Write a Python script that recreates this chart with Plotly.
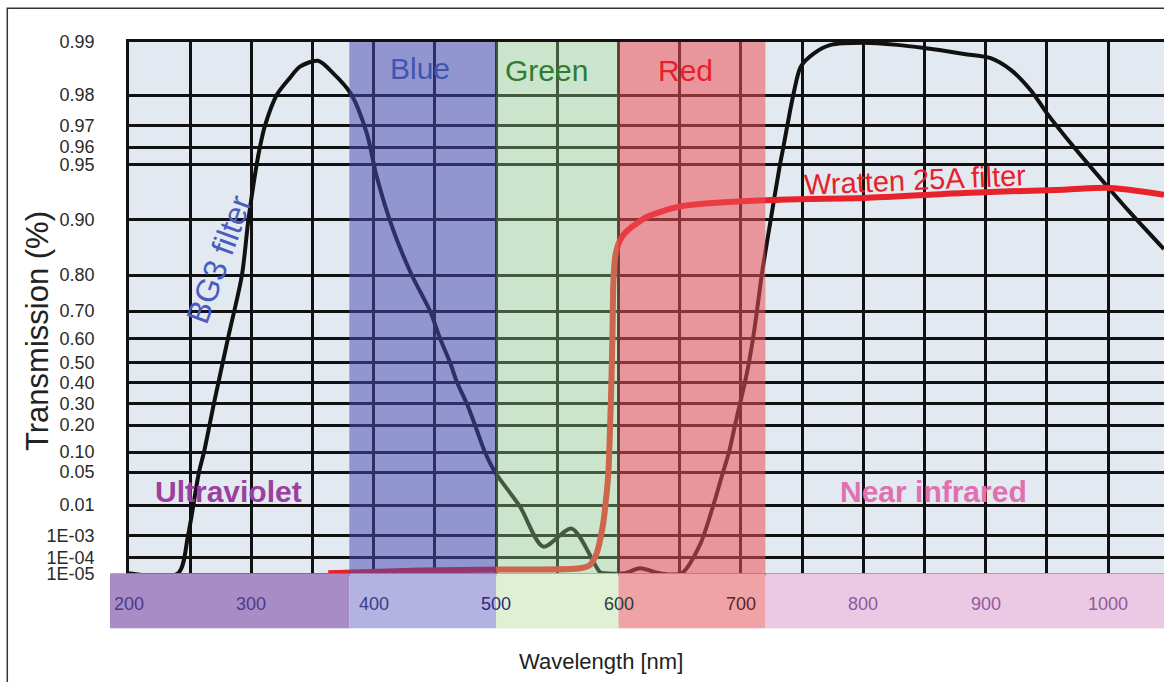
import numpy as np
import plotly.graph_objects as go

# ---------------- data ----------------
# non-linear transmission axis: tick values and their positions on the axis
TICK_LABELS = ["1E-05", "1E-04", "1E-03", "0.01", "0.05", "0.10", "0.20", "0.30", "0.40",
               "0.50", "0.60", "0.70", "0.80", "0.90", "0.95", "0.96", "0.97", "0.98", "0.99"]
TICK_VALUES = [1e-5, 1e-4, 1e-3, 0.01, 0.05, 0.10, 0.20, 0.30, 0.40,
               0.50, 0.60, 0.70, 0.80, 0.90, 0.95, 0.96, 0.97, 0.98, 0.99]
TICK_POS = [0, 15.6, 37.6, 68.3, 101.3, 121.3, 148.3, 170, 191,
            211, 235, 262.3, 298.3, 354, 408.6, 426.3, 447.6, 478.3, 531.6]

# BG3 filter transmission
bg3_nm = [200, 240, 248.2, 257.2, 261.3, 269.4, 280.9, 292.3, 297.6, 304.3, 307.0, 311.1,
          320.7, 331.5, 339.7, 354.4, 366.7, 381.1, 394.2, 402.4, 415.7, 431.0, 446.0,
          454.1, 462.3, 468.0, 475.9, 482.7, 490.8, 499.0, 519.4, 538.5, 561.7, 584.8,
          588.9, 605, 617.5, 633.8, 651.6, 666.5, 677.5, 685.4, 690.3, 695.2, 699.3,
          703.3, 706.6, 709.9, 713.1, 717.0, 724.4, 731.9, 734.7, 737.9, 742.8, 748.9,
          759.7, 773.4, 800.6, 827.6, 849.6, 882.3, 904.1, 920.5, 936.8, 950.1, 972.2,
          999.2, 1018.5, 1045.7]
bg3_t = [1e-5, 1e-5, 1e-3, 0.05, 0.10, 0.30, 0.60, 0.80, 0.90, 0.95, 0.96, 0.97,
         0.98, 0.9832, 0.9853, 0.9864, 0.9841, 0.9803, 0.9666, 0.939, 0.881, 0.80, 0.70,
         0.60, 0.50, 0.40, 0.30, 0.20, 0.10, 0.05, 0.009, 3.2e-4, 1.7e-3, 1.2e-5,
         1e-5, 1e-5, 2.1e-5, 1e-5, 1e-5, 3.8e-4, 0.01, 0.05, 0.10, 0.20, 0.30,
         0.40, 0.50, 0.60, 0.70, 0.80, 0.90, 0.95, 0.96, 0.97, 0.98, 0.9853,
         0.9878, 0.9894, 0.9898, 0.9894, 0.9888, 0.9877, 0.9869, 0.9847, 0.9809, 0.974, 0.9598,
         0.93, 0.9055, 0.845]

# Wratten 25A filter transmission
w25_nm = [362.8, 437.7, 503, 568.5, 576.6, 582.1, 587.5, 589.7, 591.6, 593.0, 594.2,
          595.1, 595.8, 597.2, 599.5, 602.5, 606.0, 610.5, 616.0, 623.0, 650.2, 731.9, 800.5,
          882.2, 964, 1002.2, 1045.7]
w25_t = [1e-5, 1.5e-5, 1.75e-5, 2.1e-5, 3.4e-5, 1.6e-4, 2.6e-3, 0.0128, 0.043, 0.176, 0.41,
         0.63, 0.78, 0.83, 0.852, 0.866, 0.876, 0.885, 0.894, 0.902, 0.9115, 0.9177, 0.9192,
         0.9238, 0.9268, 0.9284, 0.9222]

# spectral bands (nm)
band_names = ["Ultraviolet", "Blue", "Green", "Red", "Near infrared"]
band_start = [150, 380, 500, 600, 720]
band_end = [380, 500, 600, 720, 1100]
band_overlay = [None, "rgba(70,74,178,0.52)", "rgba(160,222,140,0.36)", "rgba(236,80,86,0.55)", None]
strip_colors = ["#a98cc6", "#b3b2e0", "#e0f0d2", "#f0a3a6", "#ebc8e3"]

x_ticks = [200, 300, 400, 500, 600, 700, 800, 900, 1000]
x_tick_colors = ["#4b3a8c", "#4b3a8c", "#3b3b8f", "#2b2b80", "#2d3d33", "#5b2328",
                 "#8e5a9e", "#8e5a9e", "#8e5a9e"]


def to_axis(t):
    return np.interp(np.log10(np.asarray(t, dtype=float)), np.log10(TICK_VALUES), TICK_POS)


FONT = "Liberation Sans, Arial, sans-serif"
W, H = 1164, 682

fig = go.Figure()
fig.add_trace(go.Scatter(x=bg3_nm, y=to_axis(bg3_t), mode="lines",
                         line=dict(color="#111111", width=4, shape="spline", smoothing=0.8),
                         hoverinfo="skip", showlegend=False))
fig.add_trace(go.Scatter(x=w25_nm, y=to_axis(w25_t), mode="lines",
                         line=dict(color="#e8222a", width=6, shape="spline", smoothing=0.8),
                         hoverinfo="skip", showlegend=False))

shapes = []
# colour overlays on the main plot
for s, e, c in zip(band_start, band_end, band_overlay):
    if c:
        shapes.append(dict(type="rect", xref="x", yref="y", x0=s, x1=e, y0=TICK_POS[0],
                           y1=TICK_POS[-1], fillcolor=c, line=dict(width=0), layer="above"))
# wavelength strip
for s, e, c in zip(band_start, band_end, strip_colors):
    shapes.append(dict(type="rect", xref="x2", yref="y2", x0=s, x1=e, y0=-0.1, y1=1.1,
                       fillcolor=c, line=dict(width=0), layer="above"))
# outer frame
shapes.append(dict(type="rect", xref="paper", yref="paper", x0=7.3 / W, x1=1.05,
                   y0=-0.05, y1=(H - 8.3) / H, line=dict(color="#333333", width=1.5),
                   fillcolor="rgba(0,0,0,0)", layer="above"))

ann = []
for xv, col in zip(x_ticks, x_tick_colors):
    ann.append(dict(x=xv, y=0.44, xref="x2", yref="y2", text=str(xv), showarrow=False,
                    xanchor="center", yanchor="middle",
                    font=dict(family=FONT, size=18, color=col)))

labels = [
    ("Blue", 437.8, 505.3, 30, "#4155b0", 0),
    ("Green", 541.5, 503.3, 30, "#2e7d32", 0),
    ("Red", 655, 503.3, 30, "#e8202a", 0),
    ("Wratten 25A filter", 842.3, 393.3, 29, "#e8202a", -2.5),
    ("BG3 filter", 273.6, 314.3, 32, "#4a5cc0", -70),
    ("<b>Ultraviolet</b>", 281.7, 82.3, 30, "#9b3fa0", 0),
    ("<b>Near infrared</b>", 857.4, 82.3, 30, "#e070b0", 0),
]
for t, xv, yv, sz, col, ang in labels:
    ann.append(dict(x=xv, y=yv, xref="x", yref="y", text=t, showarrow=False, textangle=ang,
                    xanchor="center", yanchor="middle",
                    font=dict(family=FONT, size=sz, color=col)))

ann.append(dict(x=37 / W, y=(H - 331) / H, xref="paper", yref="paper", text="Transmission (%)",
                xanchor="center", yanchor="middle",
                showarrow=False, textangle=-90, font=dict(family=FONT, size=31, color="#222222")))
ann.append(dict(x=600.5 / W, y=(H - 661) / H, xref="paper", yref="paper", text="Wavelength [nm]",
                xanchor="center", yanchor="middle",
                showarrow=False, font=dict(family=FONT, size=22, color="#222222")))

fig.update_layout(
    width=W, height=H, autosize=False, margin=dict(l=0, r=0, t=0, b=0, pad=0),
    paper_bgcolor="white", plot_bgcolor="#e3e9f0",
    font=dict(family=FONT),
    showlegend=False,
    xaxis=dict(domain=[129 / W, 1], range=[200, 1045.7], tick0=200, dtick=50,
               showgrid=True, gridcolor="#111111", gridwidth=2.5, showticklabels=False,
               ticks="", zeroline=False, showline=True, mirror=True, linecolor="#111111",
               linewidth=2.5, anchor="y", automargin=False),
    yaxis=dict(domain=[(H - 573.3) / H, (H - 41.7) / H], range=[TICK_POS[0], TICK_POS[-1]],
               tickmode="array", tickvals=TICK_POS, ticktext=TICK_LABELS,
               ticks="outside", ticklen=28, tickcolor="rgba(0,0,0,0)",
               tickfont=dict(family=FONT, size=18, color="#2a2a2a"),
               showgrid=True, gridcolor="#111111", gridwidth=2.5, zeroline=False,
               showline=True, linecolor="#111111", linewidth=2.5, anchor="x", automargin=False),
    xaxis2=dict(domain=[110 / W, 1], range=[200 - 19 / 1.22375, 1045.7], visible=False,
                anchor="y2", automargin=False),
    yaxis2=dict(domain=[(H - 628.3) / H, (H - 573.3) / H], range=[0, 1], visible=False,
                anchor="x2", automargin=False),
    shapes=shapes,
    annotations=ann,
)

fig.write_html("out.html")
